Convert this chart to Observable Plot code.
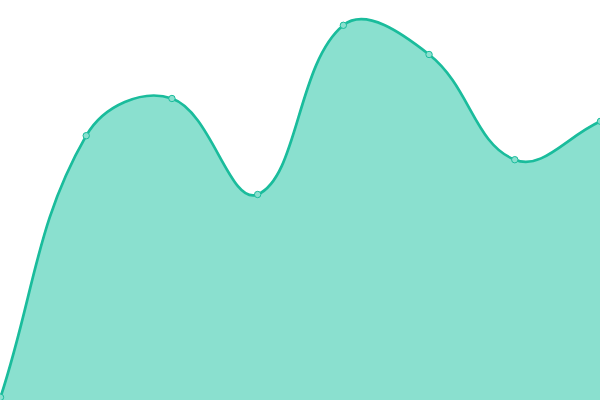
<!DOCTYPE html>
<html>
<head>
<meta charset="utf-8">
<script src="https://cdn.jsdelivr.net/npm/d3@7"></script>
<script src="https://cdn.jsdelivr.net/npm/@observablehq/plot@0.6"></script>
<style>
  html, body { margin: 0; padding: 0; background: #fff; }
</style>
</head>
<body>
<div id="chart"></div>
<script>
const indices = [0, 1, 2, 3, 4, 5, 6, 7];
const values = [0.8, 66.2, 75.5, 51.5, 93.8, 86.5, 60.2, 69.8];

const data = indices.map((i, k) => ({x: i, y: values[k]}));

// Tension-spline curve (distance-weighted cubic Bézier, tension 0.4)
function TensionCurve(context, tension) {
  this._context = context;
  this._t = tension;
}
TensionCurve.prototype = {
  areaStart() { this._line = 0; },
  areaEnd() { this._line = NaN; },
  lineStart() { this._pts = []; },
  point(x, y) { this._pts.push([+x, +y]); },
  lineEnd() {
    const p = this._pts, n = p.length, ctx = this._context, t = this._t;
    if (n) {
      if (this._line) ctx.lineTo(p[0][0], p[0][1]);
      else ctx.moveTo(p[0][0], p[0][1]);
      const cps = p.map((cur, i) => {
        const prev = p[i - 1] || cur, next = p[i + 1] || cur;
        const d01 = Math.hypot(cur[0] - prev[0], cur[1] - prev[1]);
        const d12 = Math.hypot(next[0] - cur[0], next[1] - cur[1]);
        let s01 = d01 / (d01 + d12), s12 = d12 / (d01 + d12);
        if (isNaN(s01)) s01 = 0;
        if (isNaN(s12)) s12 = 0;
        const fa = t * s01, fb = t * s12;
        return {
          prev: [cur[0] - fa * (next[0] - prev[0]), cur[1] - fa * (next[1] - prev[1])],
          next: [cur[0] + fb * (next[0] - prev[0]), cur[1] + fb * (next[1] - prev[1])]
        };
      });
      for (let i = 0; i < n - 1; i++) {
        const a = cps[i].next, b = cps[i + 1].prev, q = p[i + 1];
        ctx.bezierCurveTo(a[0], a[1], b[0], b[1], q[0], q[1]);
      }
    }
    if (this._line || (this._line !== 0 && n === 1)) ctx.closePath();
    this._line = 1 - this._line;
  }
};
const tensionCurve = (context) => new TensionCurve(context, 0.4);

const chart = Plot.plot({
  width: 600,
  height: 400,
  margin: 0,
  x: {domain: [0, 7], range: [0, 600], axis: null},
  y: {domain: [0, 100], range: [400, 0], axis: null},
  marks: [
    Plot.areaY(data, {x: "x", y: "y", curve: tensionCurve, fill: "#8ae0cf"}),
    Plot.lineY(data, {x: "x", y: "y", curve: tensionCurve, stroke: "#1abc9c", strokeWidth: 2.7}),
    Plot.dot(data, {x: "x", y: "y", r: 3.2, fill: "#8ae0cf", stroke: "#1abc9c", strokeWidth: 1})
  ]
});
document.getElementById("chart").appendChild(chart);
</script>
</body>
</html>
